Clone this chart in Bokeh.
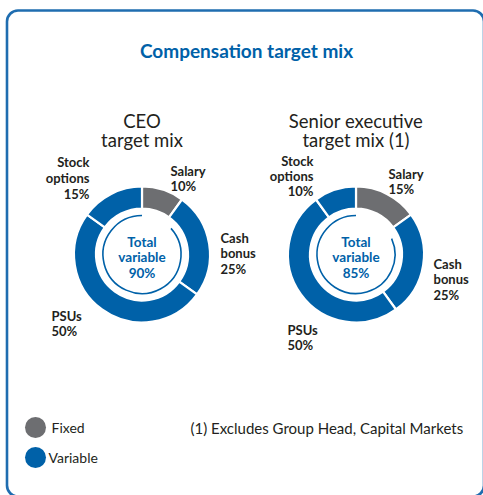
import numpy as np
from bokeh.plotting import figure
from bokeh.models import Range1d, BoxAnnotation, ColumnDataSource
from bokeh.core.properties import value
from bokeh.embed import file_html
from bokeh.resources import INLINE

# ---------------- data ----------------
title = "Compensation target mix"
components = ["Salary", "Cash bonus", "PSUs", "Stock options"]
groups = ["Fixed", "Variable", "Variable", "Variable"]
ceo_values = [10, 25, 50, 15]
senior_values = [15, 25, 50, 10]
chart_titles = [["CEO", "target mix"], ["Senior executive", "target mix (1)"]]
legend_items = ["Fixed", "Variable"]
footnote = "(1) Excludes Group Head, Capital Markets"

BLUE = "#0061a8"
GRAY = "#6d6e71"
DARK = "#231f20"
FONT = "Lato"
color_map = {"Fixed": GRAY, "Variable": BLUE}

W, H = 483, 495
p = figure(width=W, height=H, output_backend="svg", toolbar_location=None,
           x_range=Range1d(0, W), y_range=Range1d(0, H), min_border=0)
p.axis.visible = False
p.grid.visible = False
p.outline_line_color = None
p.background_fill_color = "white"


def sx(x):
    return x


def sy(y):
    return H - y


# rounded frame
p.add_layout(BoxAnnotation(left=sx(6.5), right=sx(483.5), top=sy(10), bottom=sy(496),
                           fill_alpha=0, line_color="#1f6db0", line_alpha=1,
                           line_width=2.6, border_radius=11))

# title
p.text(x=[sx(246)], y=[sy(50)], text=[title], text_font=value(FONT),
       text_font_style="bold", text_font_size="19px", text_color=BLUE,
       text_align="center", text_baseline="middle")

R_OUT, R_IN, R_THIN = 68, 46, 39

donuts = [
    dict(values=ceo_values, cx=sx(141.5), cy=sy(254),
         label_pos=[("left", sx(170), [sy(170), sy(185)]),
                    ("left", sx(220), [sy(237), sy(252), sy(268)]),
                    ("left", sx(51), [sy(315), sy(330)]),
                    ("right", sx(89), [sy(161), sy(177), sy(193)])]),
    dict(values=senior_values, cx=sx(355.5), cy=sy(254),
         label_pos=[("left", sx(388), [sy(173), sy(188)]),
                    ("left", sx(433), [sy(263), sy(278), sy(294)]),
                    ("left", sx(287), [sy(329), sy(344)]),
                    ("right", sx(313), [sy(160), sy(175), sy(190)])]),
]

label_lines = {
    "Salary": ["Salary"],
    "Cash bonus": ["Cash", "bonus"],
    "PSUs": ["PSUs"],
    "Stock options": ["Stock", "options"],
}

for d, ttl in zip(donuts, chart_titles):
    vals = np.array(d["values"], dtype=float)
    frac = vals / vals.sum()
    cum = np.concatenate([[0], np.cumsum(frac)])
    start = np.pi / 2 - 2 * np.pi * cum[:-1]
    end = np.pi / 2 - 2 * np.pi * cum[1:]
    src = ColumnDataSource(dict(
        x=[d["cx"]] * len(vals), y=[d["cy"]] * len(vals),
        start=start, end=end, color=[color_map[g] for g in groups]))
    p.annular_wedge(x="x", y="y", inner_radius=R_IN, outer_radius=R_OUT,
                    start_angle="start", end_angle="end", direction="clock",
                    fill_color="color", line_color="white", line_width=2.2,
                    source=src)

    # thin arc for total variable
    fixed = sum(v for v, g in zip(d["values"], groups) if g == "Fixed")
    variable = sum(v for v, g in zip(d["values"], groups) if g == "Variable")
    gap_end = np.deg2rad(fixed / 100 * 360 + 12)
    p.arc(x=[d["cx"]], y=[d["cy"]], radius=R_THIN,
          start_angle=np.pi / 2 - gap_end, end_angle=np.pi / 2,
          direction="clock", line_color=BLUE, line_width=1.6)

    center_lines = ["Total", "variable", f"{variable}%"]
    p.text(x=[d["cx"]] * 3, y=[sy(241), sy(256.5), sy(272)], text=center_lines,
           text_font=value(FONT), text_font_style="bold", text_font_size="13.5px",
           text_color=BLUE, text_align="center", text_baseline="middle")

    # chart title
    p.text(x=[d["cx"]] * 2, y=[sy(120), sy(139.5)], text=ttl,
           text_font=value(FONT), text_font_size="18.5px", text_color=DARK,
           text_align="center", text_baseline="middle")

    # segment labels
    for comp, v, (align, lx, ys) in zip(components, d["values"], d["label_pos"]):
        lines = label_lines[comp] + [f"{v}%"]
        p.text(x=[lx] * len(lines), y=ys, text=lines, text_font=value(FONT),
               text_font_style="bold", text_font_size="13px", text_color=DARK,
               text_align=align, text_baseline="middle")

# legend
p.scatter(x=[sx(35), sx(35)], y=[sy(427), sy(457)], size=21, marker="circle",
          fill_color=[color_map[g] for g in legend_items], line_color=None)
p.text(x=[sx(51), sx(48)], y=[sy(427), sy(457)], text=legend_items,
       text_font=value(FONT), text_font_size="14px", text_color=DARK,
       text_align="left", text_baseline="middle")

# footnote
p.text(x=[sx(190)], y=[sy(427)], text=[footnote], text_font=value(FONT),
       text_font_size="15px", text_color=DARK, text_align="left",
       text_baseline="middle")

open("out.html", "w").write(file_html(p, INLINE))
